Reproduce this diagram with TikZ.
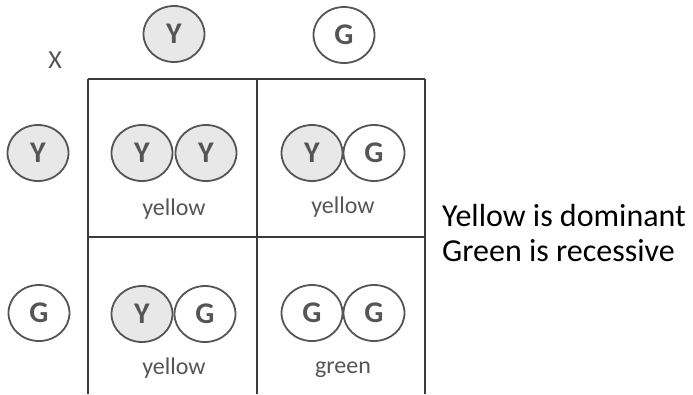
\documentclass[tikz,border=0pt]{standalone}
\usepackage{fontspec}
\setmainfont{Carlito}
\usetikzlibrary{shapes.geometric}
\definecolor{ink}{HTML}{555555}
\definecolor{gridc}{HTML}{3A3A3A}
\definecolor{yfill}{HTML}{E8E8E8}
\tikzset{
  allele/.style={ellipse, draw=ink, line width=1.8pt, minimum width=61pt, minimum height=56pt,
    inner sep=0pt, text=ink, font=\fontsize{30}{30}\selectfont\bfseries},
  yal/.style={allele, fill=yfill},
  gal/.style={allele, fill=white},
  pheno/.style={text=ink, font=\fontsize{24}{24}\selectfont, inner sep=0pt},
  gridline/.style={draw=gridc, line width=1.6pt},
  note/.style={text=black, font=\fontsize{32}{32}\selectfont, inner sep=0pt, anchor=west}
}
\begin{document}
\begin{tikzpicture}[x=1pt,y=-1pt]
\useasboundingbox (0,0) rectangle (693,394);
% grid
\coordinate (tl) at (88,79);
\coordinate (tm) at (257,79);
\coordinate (tr) at (425,79);
\coordinate (bl) at (88,394);
\coordinate (bm) at (257,394);
\coordinate (br) at (425,394);
\coordinate (ml) at (88,237);
\coordinate (mr) at (425,237);
\draw[gridline] (tl) -- (tr);
\draw[gridline] (ml) -- (mr);
\draw[gridline] (tl) -- (bl);
\draw[gridline] (tm) -- (bm);
\draw[gridline] (tr) -- (br);
% cross sign
\node[text=ink, font=\fontsize{26}{26}\selectfont, inner sep=0pt] (x) at (55,60) {X};
% parental gametes
\node[yal] (pY) at (174,34) {Y};
\node[gal] (pG) at (344,35) {G};
\node[yal] (qY) at (38,153) {Y};
\node[gal] (qG) at (39,313) {G};
% cell 1
\node[yal] (c1a) at (142,153) {Y};
\node[yal] (c1b) at (206,153) {Y};
\node[pheno] (l1) at (174,209) {yellow};
% cell 2
\node[yal] (c2a) at (312,153) {Y};
\node[gal] (c2b) at (374,153) {G};
\node[pheno] (l2) at (343,207) {yellow};
% cell 3
\node[yal] (c3a) at (142,314) {Y};
\node[gal] (c3b) at (205,314) {G};
\node[pheno] (l3) at (174,368) {yellow};
% cell 4
\node[gal] (c4a) at (312,313) {G};
\node[gal] (c4b) at (374,313) {G};
\node[pheno] (l4) at (343,370) {green};
% notes
\node[note] (n1) at (442,216) {Yellow is dominant};
\node[note] (n2) at (442,251) {Green is recessive};
\end{tikzpicture}
\end{document}
